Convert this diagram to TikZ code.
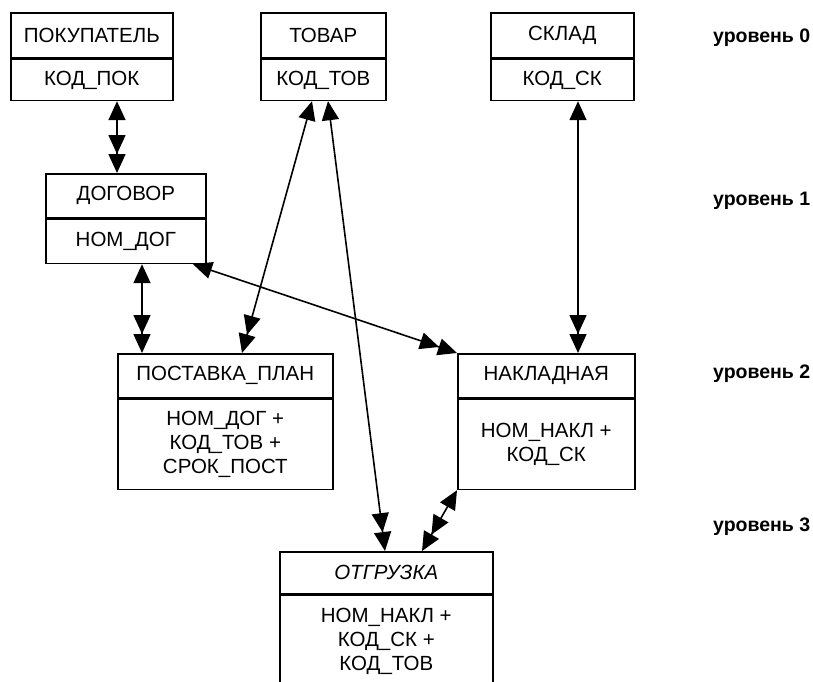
\documentclass[tikz,border=0pt]{standalone}
\usepackage{fontspec}
\setmainfont{Liberation Sans}
\usetikzlibrary{arrows.meta}
\begin{document}
\begin{tikzpicture}[x=1pt,y=-1pt,
  ent/.style={draw, line width=1.6pt, inner sep=0pt, anchor=north west, align=center,
    font=\fontsize{20.5}{24}\selectfont},
  rel/.style={line width=1.6pt,
    {Triangle[length=19pt,width=17pt]}-{Triangle[length=19pt,width=17pt] Triangle[length=19pt,width=17pt]}},
  lvl/.style={anchor=base west, inner sep=0pt, font=\bfseries\fontsize{19.5}{22}\selectfont}]
\useasboundingbox (0,0) rectangle (813,681);
\clip (0,0) rectangle (813,681);
% level 0
\node[ent, minimum width=162pt, minimum height=45pt] (pok) at (10,12) {ПОКУПАТЕЛЬ};
\node[ent, minimum width=162pt, minimum height=41pt] (pokb) at (pok.south west) {КОД\_ПОК};
\node[ent, minimum width=125pt, minimum height=45pt] (tov) at (260,12) {ТОВАР};
\node[ent, minimum width=125pt, minimum height=41pt] (tovb) at (tov.south west) {КОД\_ТОВ};
\node[ent, minimum width=143pt, minimum height=45pt] (skl) at (490,12) {СКЛАД};
\node[ent, minimum width=143pt, minimum height=41pt] (sklb) at (skl.south west) {КОД\_СК};
% level 1
\node[ent, minimum width=160pt, minimum height=44pt] (dog) at (45,173) {ДОГОВОР};
\node[ent, minimum width=160pt, minimum height=44pt] (dogb) at (dog.south west) {НОМ\_ДОГ};
% level 2
\node[ent, minimum width=215pt, minimum height=44pt] (post) at (117,353) {ПОСТАВКА\_ПЛАН};
\node[ent, minimum width=215pt, minimum height=90pt] (postb) at (post.south west) {НОМ\_ДОГ +\\КОД\_ТОВ +\\СРОК\_ПОСТ};
\node[ent, minimum width=177pt, minimum height=44pt] (nakl) at (457,353) {НАКЛАДНАЯ};
\node[ent, minimum width=177pt, minimum height=90pt] (naklb) at (nakl.south west) {НОМ\_НАКЛ +\\КОД\_СК};
% level 3
\node[ent, minimum width=213pt, minimum height=42pt] (otg) at (279,551) {\itshape ОТГРУЗКА};
\node[ent, minimum width=213pt, minimum height=91pt] (otgb) at (otg.south west) {НОМ\_НАКЛ +\\КОД\_СК +\\КОД\_ТОВ};
% level labels
\node[lvl] (l0) at (713,42) {уровень 0};
\node[lvl] (l1) at (713,205) {уровень 1};
\node[lvl] (l2) at (713,378) {уровень 2};
\node[lvl] (l3) at (713,531) {уровень 3};
% relationships
\draw[rel] ([xshift=107pt]pokb.south west) -- ([xshift=72pt]dog.north west);
\draw[rel] ([xshift=97pt]dogb.south west) -- ([xshift=25pt]post.north west);
\draw[rel] ([xshift=52pt]tovb.south west) -- ([xshift=125pt]post.north west);
\draw[rel] ([xshift=68pt]tovb.south west) -- ([xshift=106pt]otg.north west);
\draw[rel] ([xshift=88pt]sklb.south west) -- ([xshift=121pt]nakl.north west);
\draw[rel] ([xshift=148pt]dogb.south west) -- (nakl.north west);
\draw[rel] (naklb.south west) -- ([xshift=143pt]otg.north west);
\end{tikzpicture}
\end{document}
